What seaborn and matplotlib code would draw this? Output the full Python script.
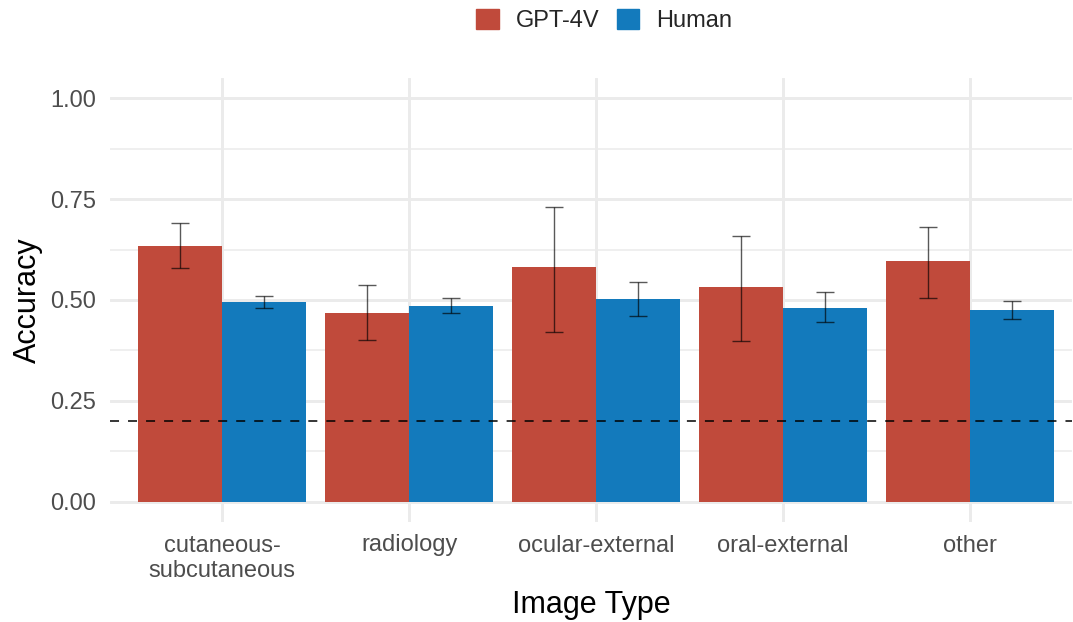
import numpy as np
import pandas as pd
import matplotlib
matplotlib.use("Agg")
import matplotlib.pyplot as plt
import matplotlib.patches as mpatches
import seaborn as sns

categories = ["cutaneous-\nsubcutaneous", "radiology", "ocular-external", "oral-external", "other"]
groups = ["GPT-4V", "Human"]
gpt_acc = [0.635, 0.469, 0.581, 0.531, 0.596]
gpt_lo = [0.580, 0.401, 0.420, 0.399, 0.505]
gpt_hi = [0.690, 0.538, 0.730, 0.659, 0.682]
human_acc = [0.495, 0.486, 0.503, 0.481, 0.475]
human_lo = [0.480, 0.468, 0.461, 0.446, 0.453]
human_hi = [0.511, 0.505, 0.545, 0.519, 0.497]
chance = 0.2
y_ticks = [0.0, 0.25, 0.5, 0.75, 1.0]
y_ticklabels = ["0.00", "0.25", "0.50", "0.75", "1.00"]
colors = {"GPT-4V": "#C04A3B", "Human": "#137ABC"}

df = pd.DataFrame({
    "Image Type": categories * 2,
    "Group": ["GPT-4V"] * len(categories) + ["Human"] * len(categories),
    "Accuracy": gpt_acc + human_acc,
})
lows = {"GPT-4V": gpt_lo, "Human": human_lo}
highs = {"GPT-4V": gpt_hi, "Human": human_hi}
means = {"GPT-4V": gpt_acc, "Human": human_acc}

sns.set_theme(style="white")
plt.rcParams["font.family"] = ["Liberation Sans", "DejaVu Sans"]

fig = plt.figure(figsize=(10.73, 6.22), dpi=100)
ax = fig.add_axes([110 / 1073, 1 - 522 / 622, (1072 - 110) / 1073, (522 - 78) / 622])

sns.barplot(data=df, x="Image Type", y="Accuracy", hue="Group", order=categories,
            hue_order=groups, palette=colors, width=0.9, saturation=1,
            errorbar=None, linewidth=0, ax=ax, legend=False, zorder=2)

for cont, g in zip(ax.containers, groups):
    xs = [p.get_x() + p.get_width() / 2 for p in cont.patches]
    m = np.array(means[g])
    lo = m - np.array(lows[g])
    hi = np.array(highs[g]) - m
    ax.errorbar(xs, m, yerr=[lo, hi], fmt="none", ecolor="black", alpha=0.65,
                elinewidth=1.0, capsize=6.8, capthick=1.0, zorder=3)

ax.axhline(chance, color="black", linewidth=1.1, linestyle=(0, (5.9, 5.9)), zorder=4)

ax.set_ylim(-0.05, 1.05)
ax.set_xlim(-0.6, 4.545)
ax.set_yticks(y_ticks)
ax.set_yticklabels(y_ticklabels)
ax.set_yticks([0.125, 0.375, 0.625, 0.875], minor=True)
ax.grid(True, which="major", axis="both", color="#EBEBEB", linewidth=2.1, zorder=0)
ax.grid(True, which="minor", axis="y", color="#EBEBEB", linewidth=1.1, zorder=0)
ax.set_axisbelow(True)
for s in ax.spines.values():
    s.set_visible(False)
ax.tick_params(axis="both", which="both", length=0, labelsize=17, labelcolor="#4D4D4D")
ax.tick_params(axis="y", pad=10)
ax.tick_params(axis="x", pad=9)
for lab in ax.get_xticklabels():
    lab.set_linespacing(1.2)

ax.set_xlabel("Image Type", fontsize=22, color="black", labelpad=6)
ax.set_ylabel("Accuracy", fontsize=22, color="black", labelpad=5)

handles = [mpatches.Patch(color=colors[g], label=g) for g in groups]
fig.legend(handles=handles, loc="center", bbox_to_anchor=(0.563, 0.967), ncol=2,
           frameon=False, fontsize=17, handlelength=0.95, handleheight=0.95,
           handletextpad=0.7, columnspacing=0.75, borderpad=0)

fig.savefig("out.png", dpi=100)
